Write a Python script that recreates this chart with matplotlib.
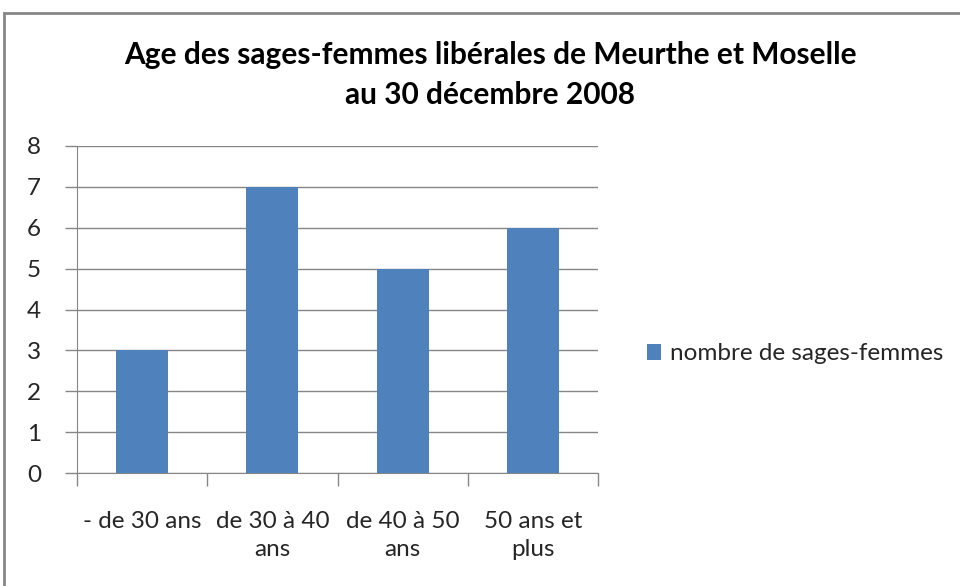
import matplotlib.pyplot as plt
from matplotlib.patches import Rectangle

# Données
categories = ["- de 30 ans", "de 30 à 40\nans", "de 40 à 50\nans", "50 ans et\nplus"]
valeurs = [3, 7, 5, 6]
serie = "nombre de sages-femmes"
titre = "Age des sages-femmes libérales de Meurthe et Moselle\nau 30 décembre 2008"

plt.rcParams["font.family"] = ["Lato", "DejaVu Sans"]

fig = plt.figure(figsize=(9.6, 5.86), dpi=100)
W, H = 960, 586
ax = fig.add_axes([77 / W, 1 - 473 / H, (598 - 77) / W, (473 - 146) / H])

# cadre du graphique
fig.patches.append(Rectangle((4 / W, -0.05), 1.1, 1 - 13 / H + 0.05, transform=fig.transFigure,
                             fill=False, edgecolor="#868686", linewidth=2))

x = range(len(categories))
ax.bar(x, valeurs, width=0.4, color="#4F81BD", label=serie, zorder=3)

ax.set_xlim(-0.5, len(categories) - 0.5)
ax.set_ylim(0, 8)
ax.set_yticks(range(0, 9))
ax.yaxis.grid(True, color="#868686", linewidth=1)
ax.set_axisbelow(True)

ax.set_xticks([i - 0.5 for i in range(len(categories) + 1)], minor=False)
ax.set_xticklabels([])
ax.set_xticks(list(x), minor=True)
ax.set_xticklabels(categories, minor=True, fontsize=17.5, color="#262626", linespacing=1.45)
ax.tick_params(axis="x", which="major", length=9, color="#868686", width=1)
ax.tick_params(axis="x", which="minor", length=0, pad=27)
ax.tick_params(axis="y", length=9, color="#868686", width=1, labelsize=17.5, labelcolor="#262626", pad=17)

for s in ["top", "right"]:
    ax.spines[s].set_visible(False)
ax.spines["left"].set_color("#868686")
ax.spines["bottom"].set_color("#868686")

fig.text(490 / W, 1 - 75 / H, titre, ha="center", va="center", fontsize=21.5, fontweight="bold",
         linespacing=1.5)

ax.legend(loc="center left", bbox_to_anchor=(625 / W, 1 - 354 / H), bbox_transform=fig.transFigure,
          frameon=False, fontsize=17.5, handlelength=0.6, handleheight=0.6, handletextpad=0.35,
          labelcolor="#262626")

fig.savefig("out.png", dpi=100)
